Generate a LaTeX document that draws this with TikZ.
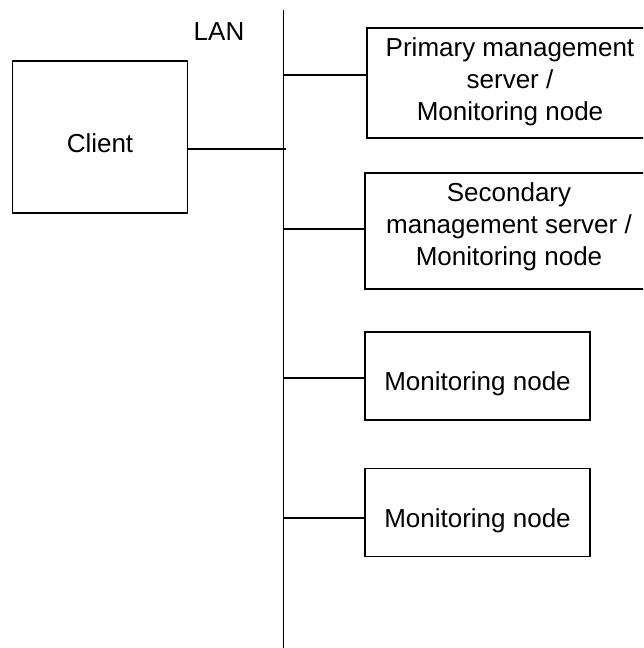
\documentclass[tikz,border=0pt]{standalone}
\usepackage{fontspec}
\setmainfont{Liberation Sans}
\begin{document}
\begin{tikzpicture}[x=1pt,y=-1pt,
  box/.style={draw,line width=1.3pt,rectangle,inner sep=0pt},
  wire/.style={line width=1.3pt},
  lbl/.style={inner sep=0pt,align=center,font=\fontsize{26}{32}\selectfont}]
\useasboundingbox (0,0) rectangle (643,648);
\clip (0,0) rectangle (643,648);
% LAN line
\coordinate (lanTop) at (283.5,10);
\coordinate (lanBot) at (283.5,650);
\draw[wire] (lanTop) -- (lanBot);
\node[lbl] (lan) at (219,32) {LAN};
% boxes
\node[box,minimum width=174.6pt,minimum height=152pt,
  label={[lbl,yshift=-6pt]center:Client}] (client) at (100,137) {};
\node[box,minimum width=286pt,minimum height=110pt,
  label={[lbl,yshift=1pt]center:Primary management\\server /\\Monitoring node}] (prim) at (510,83) {};
\node[box,minimum width=288pt,minimum height=116pt,
  label={[lbl,yshift=4pt]center:Secondary\\management server /\\Monitoring node}] (sec) at (509,231) {};
\node[box,minimum width=225pt,minimum height=88pt,
  label={[lbl,yshift=-8pt]center:Monitoring node}] (mon1) at (477.5,376) {};
\node[box,minimum width=225pt,minimum height=88pt,
  label={[lbl,yshift=-8pt]center:Monitoring node}] (mon2) at (477.5,512.5) {};
% tap points on LAN
\coordinate (t0) at (286,149);
\coordinate (t1) at (283.5,75);
\coordinate (t2) at (283.5,229);
\coordinate (t3) at (283.5,378);
\coordinate (t4) at (283.5,518);
\draw[wire] (client.east |- t0) -- (t0);
\draw[wire] (t1) -- (prim.west |- t1);
\draw[wire] (t2) -- (sec.west |- t2);
\draw[wire] (t3) -- (mon1.west |- t3);
\draw[wire] (t4) -- (mon2.west |- t4);
\end{tikzpicture}
\end{document}
